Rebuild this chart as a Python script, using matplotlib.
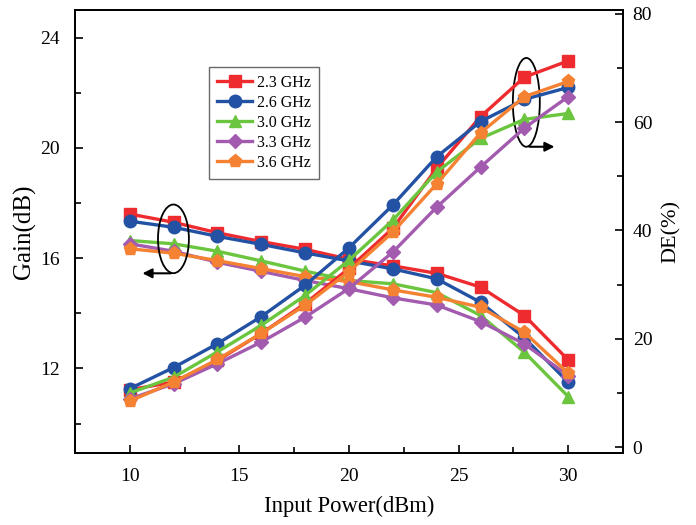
import matplotlib
matplotlib.use("Agg")
import matplotlib.pyplot as plt
from matplotlib.patches import Ellipse
from matplotlib.ticker import MultipleLocator

plt.rcParams['font.family'] = ['Liberation Serif', 'DejaVu Serif']

pin = [10, 12, 14, 16, 18, 20, 22, 24, 26, 28, 30]
labels = ['2.3 GHz', '2.6 GHz', '3.0 GHz', '3.3 GHz', '3.6 GHz']

gain_23 = [17.60, 17.30, 16.92, 16.60, 16.32, 15.96, 15.72, 15.45, 14.95, 13.92, 12.31]
gain_26 = [17.34, 17.12, 16.79, 16.50, 16.19, 15.90, 15.61, 15.25, 14.40, 13.11, 11.50]
gain_30 = [16.64, 16.52, 16.25, 15.90, 15.53, 15.19, 15.07, 14.75, 13.92, 12.59, 10.98]
gain_33 = [16.52, 16.25, 15.85, 15.52, 15.19, 14.89, 14.56, 14.30, 13.70, 12.89, 11.74]
gain_36 = [16.34, 16.18, 15.91, 15.62, 15.33, 15.15, 14.85, 14.58, 14.22, 13.31, 11.83]

de_23 = [10.6, 12.0, 16.0, 21.0, 26.5, 33.0, 40.4, 51.5, 61.0, 68.3, 71.3]
de_26 = [10.8, 14.7, 19.1, 24.1, 29.9, 36.8, 44.7, 53.6, 60.1, 64.2, 66.4]
de_30 = [10.0, 12.9, 17.6, 22.5, 28.0, 34.5, 41.9, 50.8, 57.0, 60.5, 61.6]
de_33 = [8.9, 11.7, 15.4, 19.4, 24.0, 29.3, 36.0, 44.3, 51.7, 58.9, 64.7]
de_36 = [8.5, 12.0, 16.2, 21.0, 26.2, 32.4, 39.7, 48.6, 58.0, 64.7, 67.5]

gains = [gain_23, gain_26, gain_30, gain_33, gain_36]
des = [de_23, de_26, de_30, de_33, de_36]
colors = ['#EE2B2E', '#2352A4', '#6CC53E', '#A35BAF', '#F58233']
markers = ['s', 'o', '^', 'D', 'p']
msizes = [8, 9, 9, 7.5, 9.5]

fig = plt.figure(figsize=(6.96, 5.25), dpi=100)
ax = fig.add_axes([0.1078, 0.138, 0.7873, 0.843])
ax2 = ax.twinx()

handles = []
for g, c, m, ms, lb in zip(gains, colors, markers, msizes, labels):
    h, = ax.plot(pin, g, color=c, marker=m, markersize=ms, linewidth=2.4, label=lb)
    handles.append(h)
for d, c, m, ms in zip(des, colors, markers, msizes):
    ax2.plot(pin, d, color=c, marker=m, markersize=ms, linewidth=2.4)

ax.set_xlim(7.5, 32.5)
ax.set_ylim(8.95, 25.0)
ax2.set_ylim(-1.0, 80.7)

ax.xaxis.set_major_locator(MultipleLocator(5))
ax.xaxis.set_minor_locator(MultipleLocator(2.5))
ax.yaxis.set_major_locator(MultipleLocator(4))
ax.yaxis.set_minor_locator(MultipleLocator(2))
ax2.yaxis.set_major_locator(MultipleLocator(20))
ax2.yaxis.set_minor_locator(MultipleLocator(10))

for a in (ax, ax2):
    for s in a.spines.values():
        s.set_linewidth(1.3)
    a.tick_params(which='both', direction='in', labelsize=14, width=1.2)
    a.tick_params(which='major', length=6)
    a.tick_params(which='minor', length=4)
ax.tick_params(axis='x', which='both', pad=11)
ax.tick_params(axis='y', which='both', pad=11)
ax2.tick_params(axis='y', which='both', pad=7)

ax.set_xlabel('Input Power(dBm)', fontsize=16.3, labelpad=8)
ax.set_ylabel('Gain(dB)', fontsize=18, labelpad=3)
ax2.set_ylabel('DE(%)', fontsize=16, labelpad=7)

# annotations: ellipses with arrows
e1 = Ellipse((11.99, 16.70), 1.41, 2.49, transform=ax.transData, fill=False,
             edgecolor='black', linewidth=1.3)
ax2.add_patch(e1)
ax2.annotate('', xy=(10.45, 15.45), xytext=(12.0, 15.45),
             xycoords=ax.transData, textcoords=ax.transData,
             arrowprops=dict(arrowstyle='-|>', color='black', lw=1.5, mutation_scale=14))
e2 = Ellipse((28.09, 21.65), 1.23, 3.22, transform=ax.transData, fill=False,
             edgecolor='black', linewidth=1.3)
ax2.add_patch(e2)
ax2.annotate('', xy=(29.5, 20.04), xytext=(28.1, 20.04),
             xycoords=ax.transData, textcoords=ax.transData,
             arrowprops=dict(arrowstyle='-|>', color='black', lw=1.5, mutation_scale=14))

leg = ax2.legend(handles=handles, loc='upper left', bbox_to_anchor=(0.2445, 0.871),
                 borderaxespad=0, fontsize=11.5, frameon=True, fancybox=False,
                 edgecolor='#444444', handlelength=2.2, labelspacing=0.25,
                 borderpad=0.5, handletextpad=0.3)
leg.get_frame().set_linewidth(1.0)

fig.savefig('out.png', dpi=100)
